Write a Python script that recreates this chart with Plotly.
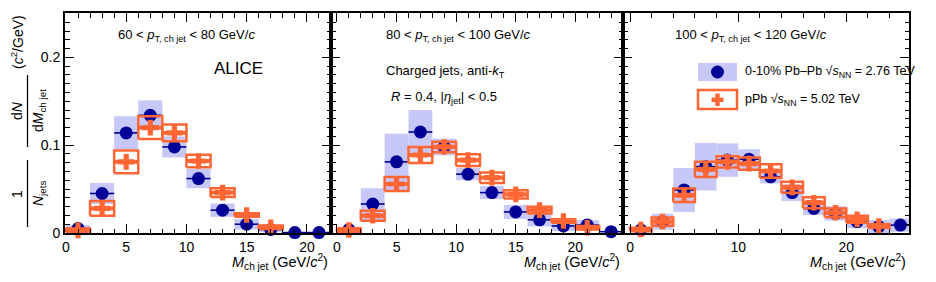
import plotly.graph_objects as go

# ---------------- data ----------------
# bin centres (GeV/c^2), bins of width 2
pb_x1 = [1, 3, 5, 7, 9, 11, 13, 15, 17, 19, 21]
pb_y1 = [0.005, 0.045, 0.114, 0.134, 0.098, 0.062, 0.026, 0.010, 0.004, 0.0005, 0.0005]
pb_s1 = [0.004, 0.012, 0.019, 0.017, 0.012, 0.011, 0.0076, 0.006, 0.003, 0.0, 0.0]
pp_x1 = [1, 3, 5, 7, 9, 11, 13, 15, 17]
pp_y1 = [0.003, 0.028, 0.081, 0.120, 0.114, 0.082, 0.046, 0.0205, 0.0065]
pp_s1 = [0.002, 0.0085, 0.013, 0.013, 0.0095, 0.007, 0.005, 0.002, 0.002]

pb_x2 = [1, 3, 5, 7, 9, 11, 13, 15, 17, 19, 21, 23]
pb_y2 = [0.004, 0.033, 0.081, 0.115, 0.098, 0.067, 0.046, 0.024, 0.015, 0.008, 0.009, 0.0015]
pb_s2 = [0.003, 0.018, 0.032, 0.025, 0.0095, 0.007, 0.0075, 0.008, 0.0076, 0.0057, 0.0057, 0.0]
pp_x2 = [1, 3, 5, 7, 9, 11, 13, 15, 17, 19, 21]
pp_y2 = [0.0034, 0.0197, 0.0558, 0.0888, 0.098, 0.083, 0.063, 0.044, 0.026, 0.0137, 0.006]
pp_s2 = [0.002, 0.0057, 0.008, 0.009, 0.006, 0.0066, 0.006, 0.0047, 0.0038, 0.002, 0.002]

pb_x3 = [1, 3, 5, 7, 9, 11, 13, 15, 17, 19, 21, 23, 25]
pb_y3 = [0.0034, 0.013, 0.049, 0.0755, 0.083, 0.084, 0.064, 0.046, 0.028, 0.0224, 0.013, 0.0072, 0.009]
pb_s3 = [0.002, 0.009, 0.025, 0.027, 0.019, 0.0114, 0.0076, 0.0095, 0.0076, 0.0083, 0.0076, 0.0076, 0.0076]
pp_x3 = [1, 3, 5, 7, 9, 11, 13, 15, 17, 19, 21, 23]
pp_y3 = [0.004, 0.013, 0.043, 0.0725, 0.081, 0.079, 0.0706, 0.052, 0.0345, 0.023, 0.0156, 0.008]
pp_s3 = [0.002, 0.0047, 0.0076, 0.0087, 0.0064, 0.007, 0.0076, 0.0063, 0.0063, 0.005, 0.004, 0.002]

panel_titles = [
    "60 < <i>p</i><sub>T, ch jet</sub> < 80 GeV/<i>c</i>",
    "80 < <i>p</i><sub>T, ch jet</sub> < 100 GeV/<i>c</i>",
    "100 < <i>p</i><sub>T, ch jet</sub> < 120 GeV/<i>c</i>",
]
x_tickvals = [[0, 5, 10, 15, 20], [0, 5, 10, 15, 20], [0, 10, 20]]
y_tickvals = [0, 0.1, 0.2]
y_ticktext = ["0", "0.1", "0.2"]

# ---------------- style ----------------
W, H = 936, 282
FONT = "Liberation Sans, Arial, sans-serif"
NAVY = "#000096"
LAV = "#c8c8f8"
ORANGE = "#ff6633"
BINW = 2.0


def fx(px):
    return px / W


def fy(py):
    return 1 - py / H


panels = [
    dict(pb=(pb_x1, pb_y1, pb_s1), pp=(pp_x1, pp_y1, pp_s1), px=(65, 331), xr=[-0.08, 22], mdt=1),
    dict(pb=(pb_x2, pb_y2, pb_s2), pp=(pp_x2, pp_y2, pp_s2), px=(331, 623), xr=[-0.5, 24], mdt=1),
    dict(pb=(pb_x3, pb_y3, pb_s3), pp=(pp_x3, pp_y3, pp_s3), px=(623, 909), xr=[-0.65, 25.8], mdt=2),
]
ytop_px, ybot_px = 13, 233
ydom = [fy(ybot_px), fy(ytop_px)]


def rect_path(xs, ys, es, w):
    px, py = [], []
    for x, y, e in zip(xs, ys, es):
        px += [x - w / 2, x + w / 2, x + w / 2, x - w / 2, x - w / 2, None]
        py += [y - e, y - e, y + e, y + e, y - e, None]
    return px, py


def txt(x, y, text, size=13, xanchor="left", angle=0):
    return dict(xref="paper", yref="paper", x=fx(x), y=fy(y), xanchor=xanchor, yanchor="middle",
                text=text, showarrow=False, textangle=angle,
                font=dict(family=FONT, size=size, color="black"))


fig = go.Figure()
layout = dict(
    width=W, height=H, margin=dict(l=0, r=0, t=0, b=0, pad=0, autoexpand=False),
    paper_bgcolor="white", plot_bgcolor="rgba(0,0,0,0)",
    showlegend=False, font=dict(family=FONT, size=14, color="black"),
    barmode="overlay",
)

annotations = []
for i, p in enumerate(panels):
    n = i + 1
    xa = "x" if n == 1 else f"x{n}"
    ya = "y" if n == 1 else f"y{n}"
    bx, by, bs = p["pb"]
    ox, oy, os_ = p["pp"]
    # Pb-Pb systematic boxes (filled)
    fig.add_trace(go.Bar(x=bx, y=[2 * s for s in bs], base=[y - s for y, s in zip(by, bs)],
                         width=BINW, marker=dict(color=LAV, line=dict(width=0)),
                         xaxis=xa, yaxis=ya, hoverinfo="skip"))
    # Pb-Pb points
    fig.add_trace(go.Scatter(x=bx, y=by, mode="markers",
                             marker=dict(symbol="circle", size=13, color=NAVY),
                             error_x=dict(type="constant", value=BINW / 2, color=NAVY, thickness=1.6, width=0),
                             cliponaxis=False, xaxis=xa, yaxis=ya))
    # pPb systematic boxes (outlined)
    rx, ry = rect_path(ox, oy, os_, BINW)
    fig.add_trace(go.Scatter(x=rx, y=ry, mode="lines", line=dict(color=ORANGE, width=2.5),
                             connectgaps=False, cliponaxis=False, xaxis=xa, yaxis=ya, hoverinfo="skip"))
    # pPb points
    fig.add_trace(go.Scatter(x=ox, y=oy, mode="markers",
                             marker=dict(symbol="cross", size=13, color=ORANGE, line=dict(width=0)),
                             error_x=dict(type="constant", value=BINW / 2, color=ORANGE, thickness=4, width=0),
                             cliponaxis=False, xaxis=xa, yaxis=ya))

    x0, x1 = p["px"]
    layout[f"xaxis{'' if n == 1 else n}"] = dict(
        domain=[fx(x0), fx(x1)], range=p["xr"], anchor=ya, automargin=False,
        showline=True, linecolor="black", linewidth=2, mirror="allticks",
        ticks="inside", ticklen=9, tickwidth=1, tickcolor="black",
        tickvals=x_tickvals[i], showgrid=False, zeroline=False,
        tickfont=dict(family=FONT, size=14, color="black"),
        minor=dict(dtick=p["mdt"], tick0=0, ticks="inside", ticklen=4.5, tickcolor="black", showgrid=False),
    )
    layout[f"yaxis{'' if n == 1 else n}"] = dict(
        domain=ydom, range=[0, 0.2505], anchor=xa, automargin=False,
        showline=True, linecolor="black", linewidth=2, mirror="allticks",
        ticks="inside", ticklen=9, tickwidth=1, tickcolor="black",
        tickvals=y_tickvals, ticktext=y_ticktext, showticklabels=(n == 1),
        showgrid=False, zeroline=False,
        tickfont=dict(family=FONT, size=14, color="black"),
        minor=dict(dtick=0.01, tick0=0, ticks="inside", ticklen=4.5, tickcolor="black", showgrid=False),
    )
    # x-axis title (right aligned)
    annotations.append(txt(x1 - 1, 262, "<i>M</i><sub>ch jet</sub> (GeV/<i>c</i><sup>2</sup>)",
                           size=14.5, xanchor="right"))

# panel titles
for (xs, t) in zip([116, 384, 673], panel_titles):
    annotations.append(txt(xs, 35, t))

annotations += [
    txt(238, 68, "ALICE", size=17, xanchor="center"),
    txt(384, 71, "Charged jets, anti-<i>k</i><sub>T</sub>"),
    txt(389, 98, "<i>R</i> = 0.4, |<i>η</i><sub>jet</sub>| < 0.5"),
    txt(743, 72, "0-10% Pb–Pb √<i>s</i><sub>NN</sub> = 2.76 TeV", size=12.5),
    txt(743, 100, "pPb √<i>s</i><sub>NN</sub> = 5.02 TeV", size=12.5),
    # y-axis title as a rotated fraction
    txt(17, 42, "(<i>c</i><sup>2</sup>/GeV)", size=14, xanchor="center", angle=-90),
    txt(17, 111, "d<i>N</i>", size=14, xanchor="center", angle=-90),
    txt(39, 111, "d<i>M</i><sub>ch jet</sub>", size=14, xanchor="center", angle=-90),
    txt(17, 194, "1", size=14, xanchor="center", angle=-90),
    txt(39, 194, "<i>N</i><sub>jets</sub>", size=14, xanchor="center", angle=-90),
]
layout["annotations"] = annotations


def prect(x0, x1, y0, y1, **kw):
    return dict(type="rect", xref="paper", yref="paper", x0=fx(x0), x1=fx(x1), y0=fy(y1), y1=fy(y0), **kw)


shapes = [
    dict(type="line", xref="paper", yref="paper", x0=fx(27.5), x1=fx(27.5), y0=fy(147), y1=fy(75),
         line=dict(color="black", width=1.3)),
    dict(type="line", xref="paper", yref="paper", x0=fx(27.5), x1=fx(27.5), y0=fy(227), y1=fy(160),
         line=dict(color="black", width=1.3)),
    # legend swatches
    prect(698, 737, 63, 81, fillcolor=LAV, line=dict(width=0)),
    dict(type="circle", xref="paper", yref="paper", x0=fx(711), x1=fx(724), y0=fy(78.5), y1=fy(65.5),
         fillcolor=NAVY, line=dict(width=0)),
    prect(698, 737, 90, 109, fillcolor="rgba(0,0,0,0)", line=dict(color=ORANGE, width=2.5)),
    prect(711.5, 723.5, 97.5, 102, fillcolor=ORANGE, line=dict(width=0)),
    prect(715.3, 719.7, 93.5, 106, fillcolor=ORANGE, line=dict(width=0)),
]
layout["shapes"] = shapes

fig.update_layout(**layout)
fig.write_html("out.html", config={"displayModeBar": False},
               post_script="document.body.style.margin='0px';document.body.style.overflow='hidden';")
